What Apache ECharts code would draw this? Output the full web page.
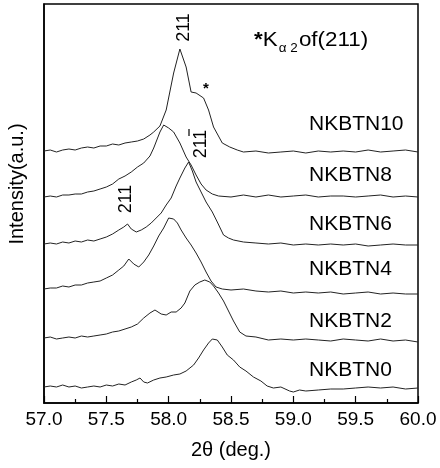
<!DOCTYPE html>
<html>
<head>
<meta charset="utf-8">
<script src="https://cdn.jsdelivr.net/npm/echarts@6/dist/echarts.min.js"></script>
<style>
  html, body { margin: 0; padding: 0; background: #fff; }
  #main { width: 440px; height: 468px; }
</style>
</head>
<body>
<div id="main"></div>
<script>
// sample names, bottom to top as stacked in the plot
var names = ['NKBTN0', 'NKBTN2', 'NKBTN4', 'NKBTN6', 'NKBTN8', 'NKBTN10'];
var xTicks = [57.0, 57.5, 58.0, 58.5, 59.0, 59.5, 60.0];

// [2theta, intensity (a.u., offset-stacked)]
var nkbtn10 = [[57.00,252],[57.05,253],[57.10,251],[57.15,253],[57.20,254],[57.25,253],[57.30,255],[57.35,256],[57.40,255],[57.45,257],[57.50,257],[57.55,259],[57.60,258],[57.65,260],[57.70,261],[57.75,262],[57.80,264],[57.85,268],[57.88,271],[57.93,277],[57.98,293],[58.04,330],[58.09,354],[58.14,336],[58.18,311],[58.22,310],[58.28,305],[58.32,293],[58.36,276],[58.43,260],[58.49,256],[58.55,253],[58.60,251],[58.70,252],[58.80,250],[58.90,251],[59.00,252],[59.10,250],[59.20,252],[59.30,251],[59.40,252],[59.50,251],[59.60,253],[59.70,251],[59.80,252],[59.90,253],[60.00,251]];
var nkbtn8 = [[57.00,206],[57.05,207],[57.10,206],[57.15,208],[57.20,208],[57.25,209],[57.30,209],[57.35,211],[57.40,212],[57.45,214],[57.50,216],[57.55,219],[57.60,224],[57.65,227],[57.70,231],[57.75,236],[57.80,240],[57.85,247],[57.88,255],[57.93,271],[57.96,278],[58.00,275],[58.04,271],[58.09,260],[58.14,246],[58.18,238],[58.22,228],[58.26,219],[58.30,213],[58.35,209],[58.40,207],[58.50,206],[58.60,208],[58.70,206],[58.80,208],[58.90,206],[59.00,207],[59.10,208],[59.20,206],[59.30,207],[59.40,207],[59.50,206],[59.60,207],[59.70,208],[59.80,206],[59.90,207],[60.00,206]];
var nkbtn6 = [[57.00,159],[57.05,160],[57.10,159],[57.15,161],[57.20,160],[57.25,162],[57.30,161],[57.35,163],[57.40,162],[57.45,164],[57.50,166],[57.55,169],[57.60,173],[57.64,176],[57.67,179],[57.70,174],[57.74,171],[57.78,173],[57.82,176],[57.86,180],[57.90,185],[57.94,190],[57.98,198],[58.02,205],[58.06,217],[58.09,225],[58.13,235],[58.16,241],[58.19,232],[58.22,221],[58.26,211],[58.30,201],[58.35,191],[58.39,181],[58.44,168],[58.48,165],[58.52,163],[58.60,161],[58.70,160],[58.80,159],[58.90,160],[59.00,158],[59.10,159],[59.20,158],[59.30,159],[59.40,158],[59.50,159],[59.60,157],[59.70,158],[59.80,159],[59.90,158],[60.00,158]];
var nkbtn4 = [[57.00,114],[57.05,115],[57.10,115],[57.15,117],[57.20,116],[57.25,118],[57.30,118],[57.35,120],[57.40,121],[57.45,122],[57.50,125],[57.55,128],[57.60,133],[57.64,137],[57.68,144],[57.72,139],[57.76,136],[57.80,141],[57.84,148],[57.88,157],[57.92,167],[57.96,175],[58.00,185],[58.04,184],[58.07,180],[58.10,173],[58.14,165],[58.18,158],[58.22,150],[58.26,141],[58.30,131],[58.34,122],[58.38,116],[58.43,114],[58.50,113],[58.60,114],[58.70,112],[58.80,111],[58.90,112],[59.00,110],[59.10,111],[59.20,110],[59.30,111],[59.40,109],[59.50,110],[59.60,111],[59.70,109],[59.80,110],[59.90,109],[60.00,109]];
var nkbtn2 = [[57.00,65],[57.05,66],[57.10,64],[57.15,65],[57.20,66],[57.25,65],[57.30,67],[57.35,66],[57.40,67],[57.45,68],[57.50,69],[57.55,71],[57.60,72],[57.65,74],[57.70,76],[57.75,79],[57.80,85],[57.85,90],[57.89,93],[57.94,89],[57.98,88],[58.02,91],[58.06,91],[58.10,95],[58.13,100],[58.17,112],[58.21,118],[58.25,121],[58.29,123],[58.33,121],[58.36,117],[58.40,110],[58.44,102],[58.48,92],[58.52,82],[58.57,71],[58.62,67],[58.70,66],[58.80,63],[58.90,64],[59.00,63],[59.10,64],[59.20,63],[59.30,62],[59.40,64],[59.50,63],[59.60,62],[59.70,64],[59.80,62],[59.90,63],[60.00,61]];
var nkbtn0 = [[57.00,16],[57.05,17],[57.10,16],[57.15,18],[57.20,16],[57.25,17],[57.30,15],[57.35,16],[57.40,17],[57.45,16],[57.50,18],[57.55,17],[57.60,19],[57.65,18],[57.70,21],[57.74,23],[57.77,25],[57.80,21],[57.83,20],[57.88,23],[57.93,25],[57.98,26],[58.04,28],[58.09,29],[58.14,32],[58.20,38],[58.24,45],[58.28,53],[58.32,60],[58.35,64],[58.39,63],[58.43,56],[58.47,48],[58.52,43],[58.57,36],[58.62,32],[58.68,26],[58.74,22],[58.79,17],[58.84,15],[58.90,16],[58.97,12],[59.00,11],[59.05,13],[59.10,12],[59.20,13],[59.30,14],[59.40,14],[59.50,15],[59.60,16],[59.70,15],[59.80,16],[59.90,14],[60.00,15]];

var curves = [nkbtn0, nkbtn2, nkbtn4, nkbtn6, nkbtn8, nkbtn10];
var labelY = [370, 321, 269, 224, 175, 124];

var FONT = '"Liberation Sans", Arial, sans-serif';
var chart = echarts.init(document.getElementById('main'));

var series = curves.map(function (d, i) {
  return {
    name: names[i],
    type: 'line',
    data: d,
    showSymbol: false,
    lineStyle: { color: '#222', width: 1 },
    silent: true
  };
});

var graphics = names.map(function (n, i) {
  return {
    type: 'text', x: 309, y: labelY[i], scaleX: 1.05,
    style: { text: n, font: '20px ' + FONT, fill: '#000', verticalAlign: 'middle' }
  };
});
graphics.push(
  // y axis title
  { type: 'text', x: 17, y: 184, rotation: Math.PI / 2,
    style: { text: 'Intensity(a.u.)', font: '20px ' + FONT, fill: '#000', align: 'center', verticalAlign: 'middle' } },
  // peak indices
  { type: 'text', x: 184.5, y: 27.5, rotation: Math.PI / 2,
    style: { text: '211', font: '18px ' + FONT, fill: '#000', align: 'center', verticalAlign: 'middle' } },
  { type: 'text', x: 201.5, y: 144, rotation: Math.PI / 2,
    style: { text: '211', font: '18px ' + FONT, fill: '#000', align: 'center', verticalAlign: 'middle' } },
  { type: 'line', shape: { x1: 189, y1: 129, x2: 189, y2: 136 }, style: { stroke: '#000', lineWidth: 1.2 } },
  { type: 'text', x: 126, y: 199, rotation: Math.PI / 2,
    style: { text: '211', font: '18px ' + FONT, fill: '#000', align: 'center', verticalAlign: 'middle' } },
  { type: 'text', x: 206, y: 89,
    style: { text: '*', font: 'bold 15px ' + FONT, fill: '#000', align: 'center', verticalAlign: 'middle' } },
  // K alpha2 note
  { type: 'text', x: 254, y: 40, scaleX: 1.12,
    style: {
      text: '{s|*}K{sub|α 2}of(211)', font: '20px ' + FONT, fill: '#000', verticalAlign: 'middle',
      rich: {
        s: { font: 'bold 20px ' + FONT, fill: '#000' },
        sub: { font: '12px ' + FONT, fill: '#000', padding: [18, 1, 0, 1] }
      }
    } }
);

chart.setOption({
  animation: false,
  grid: { left: 44, right: 22, top: 4, bottom: 65, show: true, borderColor: '#000', borderWidth: 1.5 },
  xAxis: {
    type: 'value', min: 57, max: 60, interval: 0.5,
    name: '2θ (deg.)', nameLocation: 'middle', nameGap: 37,
    nameTextStyle: { fontSize: 20, fontFamily: FONT, color: '#000' },
    axisLine: { lineStyle: { color: '#000', width: 1.5 } },
    axisTick: { inside: true, length: 7, lineStyle: { color: '#000', width: 1.2 } },
    minorTick: { show: true, splitNumber: 2, length: 4, lineStyle: { color: '#000', width: 1.2 } },
    splitLine: { show: false },
    axisLabel: {
      fontSize: 19, fontFamily: FONT, color: '#000', margin: 7,
      formatter: function (v) { return v.toFixed(1); },
      customValues: xTicks
    }
  },
  yAxis: {
    type: 'value', min: 0, max: 399,
    axisLine: { show: true, lineStyle: { color: '#000', width: 1.5 } },
    axisTick: { show: false },
    axisLabel: { show: false },
    splitLine: { show: false }
  },
  series: series,
  graphic: graphics
});
</script>
</body>
</html>
